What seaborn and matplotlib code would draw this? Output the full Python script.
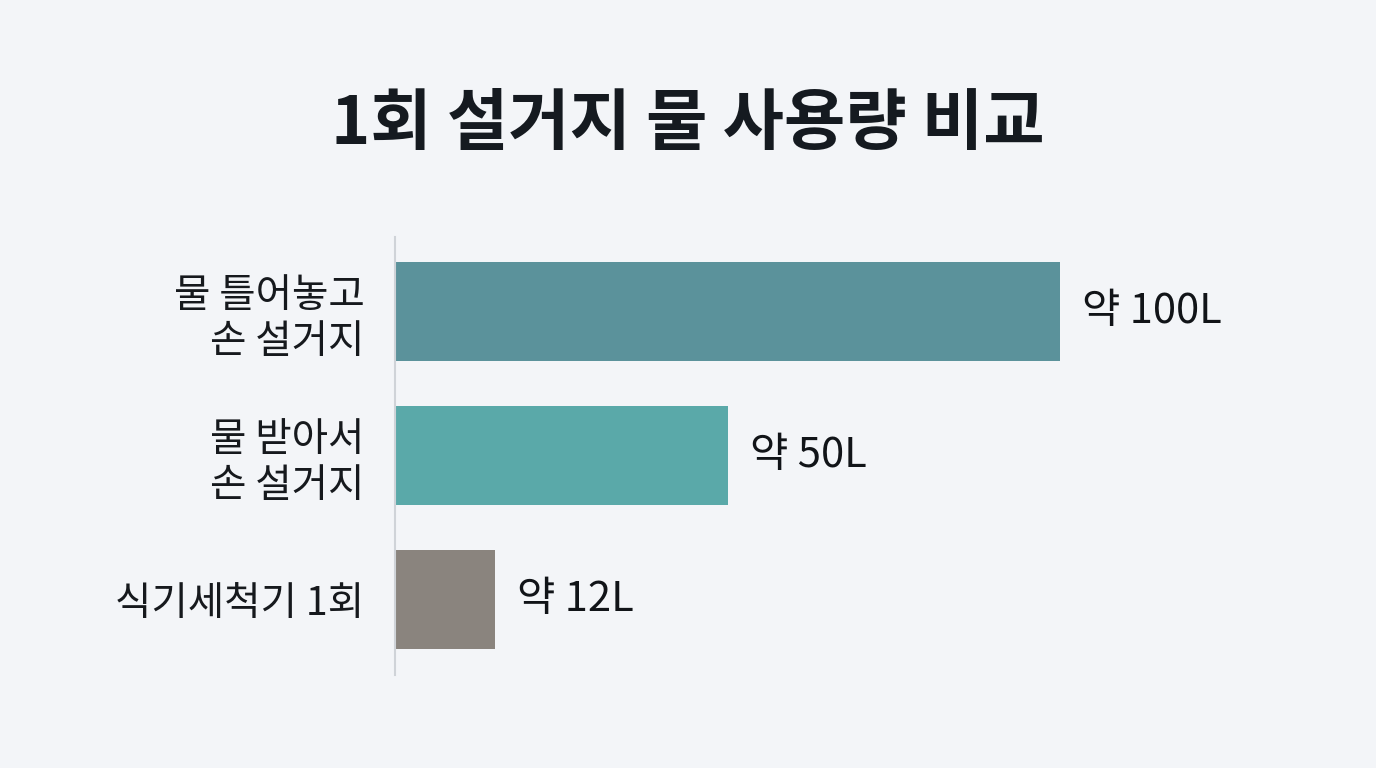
import matplotlib
matplotlib.use("Agg")
import pandas as pd
import seaborn as sns
import matplotlib.pyplot as plt

# datos
categorias = ["물 틀어놓고\n손 설거지", "물 받아서\n손 설거지", "식기세척기 1회"]
litros = [100, 50, 15]
etiquetas = ["약 100L", "약 50L", "약 12L"]
colores = ["#5b929b", "#5aa9a9", "#8a847e"]
titulo = "1회 설거지 물 사용량 비교"

fondo = "#f3f5f8"

sns.set_theme(style="white")
plt.rcParams["font.family"] = ["Noto Sans CJK KR", "DejaVu Sans"]

df = pd.DataFrame({"categoria": categorias, "litros": litros})

fig = plt.figure(figsize=(13.76, 7.68), dpi=100, facecolor=fondo)
ax = fig.add_axes([395 / 1376, 1 - 675 / 768, 1 - 395 / 1376 - 0.02, (675 - 237) / 768])
ax.set_facecolor(fondo)

sns.barplot(data=df, x="litros", y="categoria", hue="categoria",
            palette=colores, width=0.69, legend=False, ax=ax,
            edgecolor="none", saturation=1)

ax.set_xlim(0, 100 * (1376 * ax.get_position().width) / 665)
ax.set_ylim(2.525, -0.52)

for i, (v, txt) in enumerate(zip(litros, etiquetas)):
    ax.text(v + 100 * 22 / 665, i, txt, va="center", ha="left",
            fontsize=30, color="#111418")

ax.set_xlabel("")
ax.set_ylabel("")
ax.set_xticks([])
ax.tick_params(axis="y", length=0, pad=22, labelsize=28.5, labelcolor="#16191d")
for lab in ax.get_yticklabels():
    lab.set_linespacing(1.2)
    lab.set_ha("right")

for lado in ["top", "right", "bottom"]:
    ax.spines[lado].set_visible(False)
ax.spines["left"].set_color("#cfd3d8")
ax.spines["left"].set_linewidth(1.5)

fig.text(0.5, 1 - 125 / 768, titulo, ha="center", va="center",
         fontsize=48, fontweight="bold", color="#151a20")

fig.savefig("out.png", dpi=100, facecolor=fondo)
